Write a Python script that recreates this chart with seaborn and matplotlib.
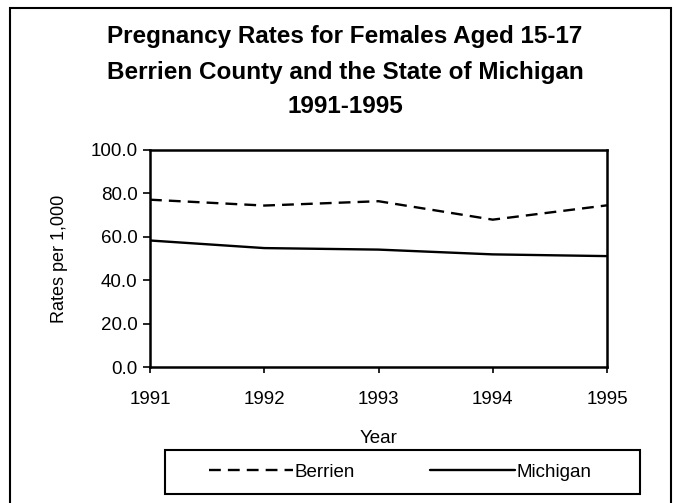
import pandas as pd
import seaborn as sns
import matplotlib.pyplot as plt
from matplotlib.patches import Rectangle

# data
years = [1991, 1992, 1993, 1994, 1995]
berrien = [77.1, 74.4, 76.4, 67.9, 74.5]
michigan = [58.3, 54.8, 54.1, 51.9, 51.1]
series_names = ["Berrien", "Michigan"]
title_lines = ["Pregnancy Rates for Females Aged 15-17",
               "Berrien County and the State of Michigan",
               "1991-1995"]

df = pd.DataFrame({
    "Year": years * 2,
    "Rate": berrien + michigan,
    "Region": [series_names[0]] * len(years) + [series_names[1]] * len(years),
})

sns.set_style("white")
plt.rcParams["font.family"] = ["Liberation Sans", "DejaVu Sans"]
plt.rcParams["text.color"] = "black"
plt.rcParams["axes.labelcolor"] = "black"

fig = plt.figure(figsize=(6.74, 5.03), dpi=100)
ax = fig.add_axes([150 / 674, 1 - 367 / 503, 457 / 674, 217 / 503])

sns.lineplot(data=df, x="Year", y="Rate", style="Region", color="black",
             dashes={"Berrien": (5, 3), "Michigan": ""}, linewidth=1.7, ax=ax)

ax.set_xlim(1991, 1995)
ax.set_ylim(0, 100)
ax.set_xticks(years)
ax.set_xticklabels([str(y) for y in years])
ax.set_yticks(range(0, 101, 20))
ax.set_yticklabels([f"{v:.1f}" for v in range(0, 101, 20)])
ax.tick_params(axis="x", direction="out", length=4, width=1.2, pad=13,
               labelsize=13.5, bottom=True, colors="black")
ax.tick_params(axis="y", direction="out", length=5, width=1.2, pad=4,
               labelsize=13.5, left=True, colors="black")
for sp in ax.spines.values():
    sp.set_visible(True)
    sp.set_color("black")
    sp.set_linewidth(1.8)

ax.set_xlabel("Year", fontsize=13.5)
ax.set_ylabel("Rates per 1,000", fontsize=13)
ax.xaxis.set_label_coords(0.5, -0.29)
ax.yaxis.set_label_coords(-0.18, 0.5)

# legend below the axis label, frame drawn separately
handles, labels = ax.get_legend_handles_labels()
ax.get_legend().remove()
fig.legend(handles, labels, loc="center", ncol=2,
           bbox_to_anchor=(400 / 674, 1 - 472 / 503),
           fontsize=13.5, handlelength=4.5, handletextpad=0.1,
           columnspacing=4.0, frameon=False, borderpad=0, borderaxespad=0)
fig.patches.append(Rectangle((165 / 674, 1 - 494 / 503), 475 / 674, 44 / 503,
                             transform=fig.transFigure, fill=False,
                             edgecolor="black", linewidth=1.5))

# three title lines
for i, line in enumerate(title_lines):
    fig.text(0.512, 1 - (37 + 35 * i) / 503, line, ha="center", va="center",
             fontsize=17.5, fontweight="bold", color="black")

# outer chart border
fig.patches.append(Rectangle((10 / 674, -0.01), 661 / 674, 1 - 8 / 503 + 0.01,
                             transform=fig.transFigure, fill=False,
                             edgecolor="black", linewidth=1.5))

fig.savefig("out.png", dpi=100)
